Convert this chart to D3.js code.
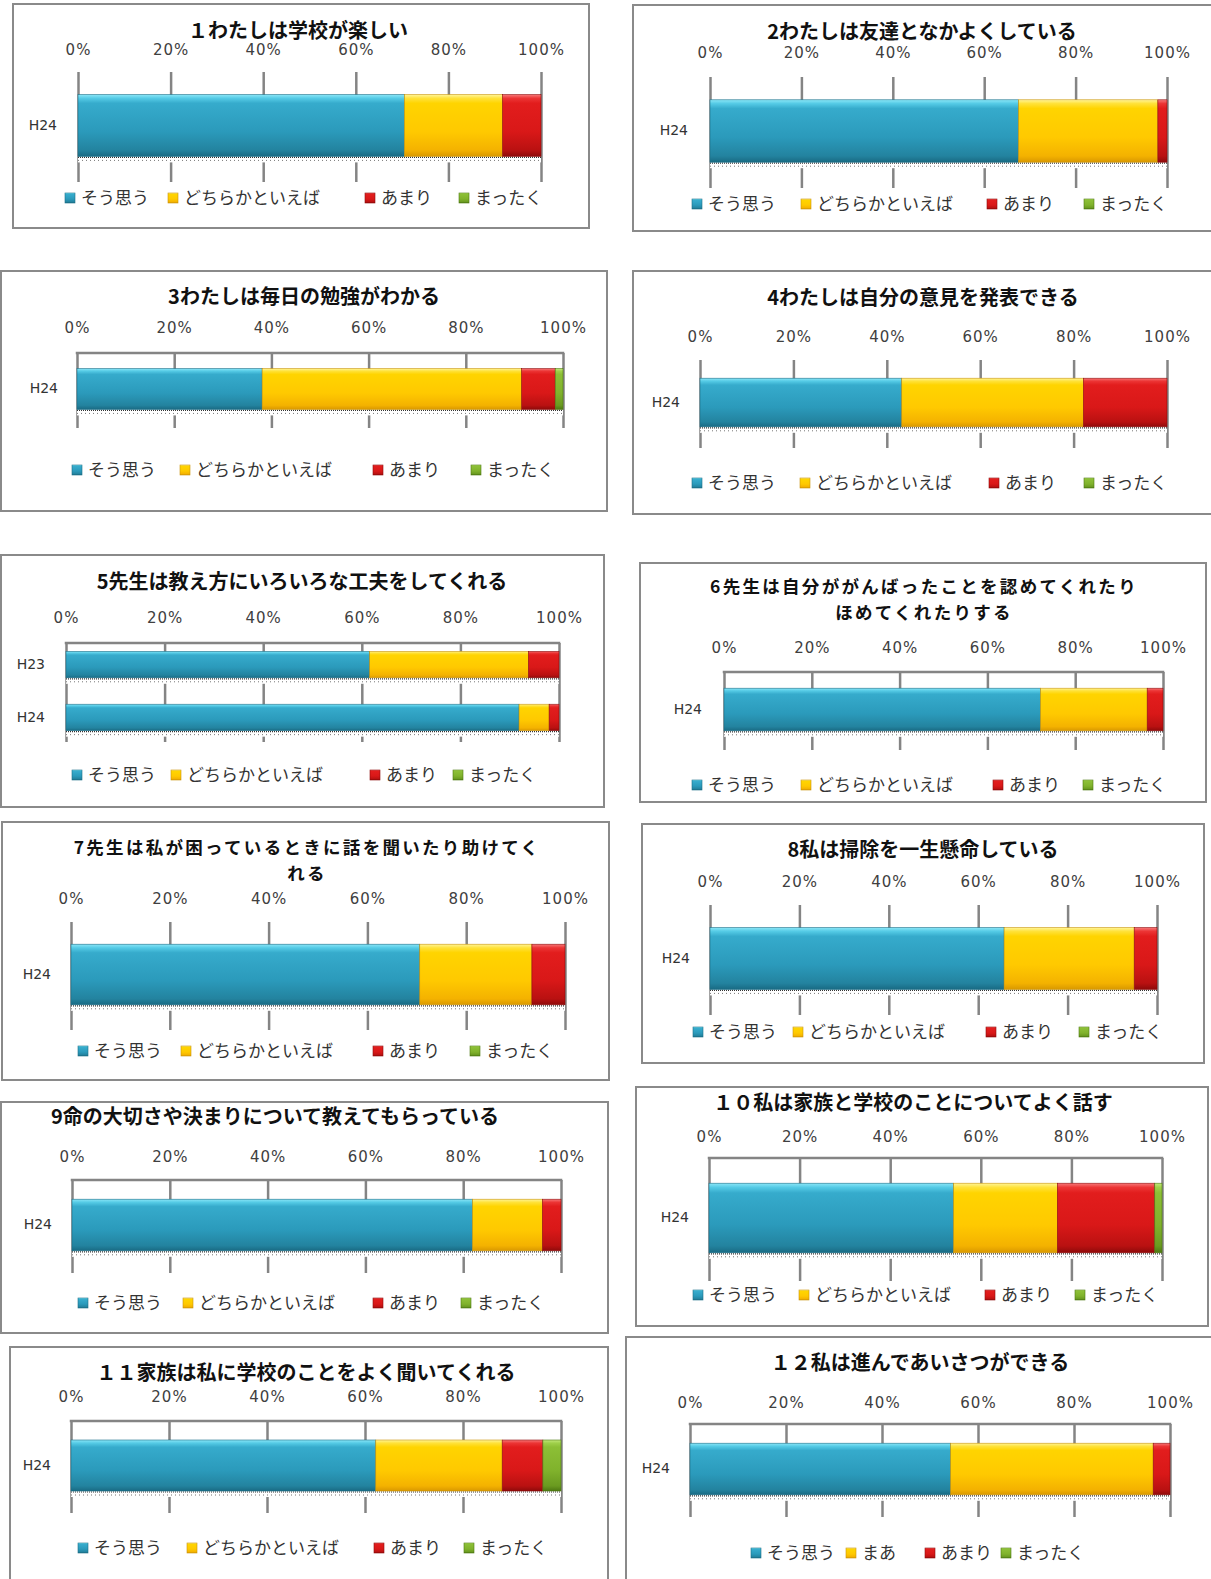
<!DOCTYPE html>
<html>
<head>
<meta charset="utf-8">
<script src="https://cdn.jsdelivr.net/npm/d3@7"></script>
<style>
body { margin: 0; background: #fff; }
</style>
</head>
<body>
<div id="charts"></div>
<script>
// chart titles, one entry per line
var titles = [
    ["１わたしは学校が楽しい"],
    ["2わたしは友達となかよくしている"],
    ["3わたしは毎日の勉強がわかる"],
    ["4わたしは自分の意見を発表できる"],
    ["5先生は教え方にいろいろな工夫をしてくれる"],
    ["6先生は自分ががんばったことを認めてくれたり", "ほめてくれたりする"],
    ["7先生は私が困っているときに話を聞いたり助けてく", "れる"],
    ["8私は掃除を一生懸命している"],
    ["9命の大切さや決まりについて教えてもらっている"],
    ["１０私は家族と学校のことについてよく話す"],
    ["１１家族は私に学校のことをよく聞いてくれる"],
    ["１２私は進んであいさつができる"]
];

var categories = [["H24"], ["H24"], ["H24"], ["H24"], ["H23", "H24"], ["H24"],
                  ["H24"], ["H24"], ["H24"], ["H24"], ["H24"], ["H24"]];

var tickValues = [0, 20, 40, 60, 80, 100];
var tickLabels = ["0%", "20%", "40%", "60%", "80%", "100%"];

var seriesNames   = ["そう思う", "どちらかといえば", "あまり", "まったく"];
var seriesNames12 = ["そう思う", "まあ", "あまり", "まったく"];

// percent values per chart, per category
var souOmou   = [[70.5], [67.5], [38.1], [43.2], [61.6, 91.9], [72.1], [70.6], [65.8], [81.9], [54.0], [62.2], [54.3]];
var dochiraka = [[21.2], [30.5], [53.4], [38.9], [32.2, 6.1],  [24.3], [22.7], [29.1], [14.3], [22.9], [25.8], [42.2]];
var amari     = [[8.3],  [2.0],  [6.9],  [17.9], [6.2, 2.0],   [3.6],  [6.7],  [5.1],  [3.8],  [21.5], [8.3],  [3.5]];
var mattaku   = [[0],    [0],    [1.6],  [0],    [0, 0],       [0],    [0],    [0],    [0],    [1.6],  [3.7],  [0]];

// where each chart box sits on the page
var layout = [
    {box: [13, 4, 576, 224],    tx: 298, ty: 31,   x0: 78,  x1: 541,  tickY: 50,   gTop: 72,   gBot: 182,  catX: 57,  legY: 198,  legX: [65, 168, 365, 459],   frame: false},
    {box: [633, 5, 600, 226],   tx: 922, ty: 32,   x0: 710, x1: 1167, tickY: 53,   gTop: 77,   gBot: 188,  catX: 688, legY: 204,  legX: [692, 801, 987, 1084], frame: false},
    {box: [1, 271, 606, 240],   tx: 304, ty: 297,  x0: 77,  x1: 563,  tickY: 328,  gTop: 353,  gBot: 428,  catX: 58,  legY: 470,  legX: [72, 180, 373, 471],   frame: true},
    {box: [633, 271, 600, 243], tx: 923, ty: 298,  x0: 700, x1: 1167, tickY: 337,  gTop: 360,  gBot: 448,  catX: 680, legY: 483,  legX: [692, 800, 989, 1084], frame: false},
    {box: [1, 555, 603, 252],   tx: 302, ty: 582,  x0: 66,  x1: 559,  tickY: 618,  gTop: 643,  gBot: 742,  catX: 45,  legY: 775,  legX: [72, 171, 370, 453],   frame: true, pi: 0.5, po: 0.12},
    {box: [640, 563, 566, 239], tx: 924, ty: 587,  x0: 724, x1: 1163, tickY: 648,  gTop: 672,  gBot: 750,  catX: 702, legY: 785,  legX: [692, 801, 993, 1083], frame: true},
    {box: [2, 822, 607, 258],   tx: 307, ty: 848,  x0: 71,  x1: 565,  tickY: 899,  gTop: 922,  gBot: 1030, catX: 51,  legY: 1051, legX: [78, 181, 373, 470],   frame: false},
    {box: [642, 824, 562, 239], tx: 923, ty: 850,  x0: 710, x1: 1157, tickY: 882,  gTop: 905,  gBot: 1015, catX: 690, legY: 1032, legX: [693, 793, 986, 1079], frame: false},
    {box: [1, 1102, 607, 231],  tx: 275, ty: 1117, x0: 72,  x1: 561,  tickY: 1157, gTop: 1180, gBot: 1273, catX: 52,  legY: 1303, legX: [78, 183, 373, 461],   frame: true},
    {box: [636, 1087, 572, 239],tx: 913, ty: 1103, x0: 709, x1: 1162, tickY: 1137, gTop: 1158, gBot: 1281, catX: 689, legY: 1295, legX: [693, 799, 985, 1075], frame: true},
    {box: [10, 1347, 598, 260], tx: 306, ty: 1373, x0: 71,  x1: 561,  tickY: 1397, gTop: 1421, gBot: 1513, catX: 51,  legY: 1548, legX: [78, 187, 374, 464],   frame: true},
    {box: [626, 1337, 600, 260],tx: 920, ty: 1363, x0: 690, x1: 1170, tickY: 1403, gTop: 1424, gBot: 1517, catX: 670, legY: 1553, legX: [751, 846, 925, 1001], frame: true}
];

// bevel-ish gradients for the 4 series
var gradients = [
    [[0, "#8be6f7"], [0.06, "#55cbe6"], [0.14, "#36abcc"], [0.6, "#2b9abb"], [0.9, "#23839f"], [1, "#196a83"]],
    [[0, "#fff59a"], [0.06, "#ffe23a"], [0.14, "#ffd400"], [0.6, "#ffc900"], [0.9, "#f4b200"], [1, "#d99800"]],
    [[0, "#f77a7a"], [0.06, "#ec3535"], [0.14, "#e21d1d"], [0.6, "#d91818"], [0.9, "#b91111"], [1, "#8e0a0a"]],
    [[0, "#c4e87c"], [0.06, "#9fd04a"], [0.14, "#8cbf36"], [0.6, "#80b22c"], [0.9, "#6a9a20"], [1, "#4d7812"]]
];
var edgeColors = ["#1d6f88", "#c9930a", "#8e0c0c", "#4d7812"];

var keys = ["sou", "dochira", "amari", "mattaku"];

var svg = d3.select("#charts")
    .append("svg")
    .attr("width", 1211)
    .attr("height", 1579);

var defs = svg.append("defs");
gradients.forEach(function(stops, i) {
    var lg = defs.append("linearGradient")
        .attr("id", "bar" + i)
        .attr("x1", 0).attr("y1", 0).attr("x2", 0).attr("y2", 1);
    stops.forEach(function(s) {
        lg.append("stop").attr("offset", s[0]).attr("stop-color", s[1]);
    });
});

layout.forEach(function(L, p) {
    var g = svg.append("g");

    // box
    g.append("rect")
        .attr("x", L.box[0]).attr("y", L.box[1])
        .attr("width", L.box[2]).attr("height", L.box[3])
        .attr("fill", "#fff")
        .attr("stroke", "#8a8a8a")
        .attr("stroke-width", 2);

    // title (two-line titles a bit smaller so the lines don't collide)
    var twoLines = titles[p].length > 1;
    titles[p].forEach(function(line, k) {
        g.append("text")
            .attr("x", L.tx)
            .attr("y", L.ty + k * 26)
            .attr("dy", "0.35em")
            .attr("text-anchor", "middle")
            .attr("font-family", "'Noto Sans CJK JP', sans-serif")
            .attr("font-weight", "bold")
            .attr("font-size", twoLines ? "17.5px" : "20px")
            .attr("letter-spacing", twoLines ? "2.3px" : "0px")
            .attr("fill", "#111")
            .text(line);
    });

    var x = d3.scaleLinear().domain([0, 100]).range([L.x0, L.x1]);
    var y = d3.scaleBand()
        .domain(categories[p])
        .range([L.gTop + 2, L.gBot - 5])
        .paddingInner(L.pi || 0.25)
        .paddingOuter(L.po || 0.25);

    // percent labels
    var tickAxis = g.append("g")
        .attr("transform", "translate(0," + L.tickY + ")")
        .call(d3.axisTop(x).tickValues(tickValues).tickSize(0)
            .tickFormat(function(d, i) { return tickLabels[i]; }));
    tickAxis.select(".domain").remove();
    tickAxis.selectAll("text")
        .attr("y", 0).attr("dy", "0.35em")
        .attr("font-family", "'DejaVu Sans', sans-serif")
        .attr("font-size", "15px")
        .attr("letter-spacing", "1px")
        .attr("fill", "#404040");

    // grid lines
    var grid = g.append("g")
        .attr("transform", "translate(0," + L.gTop + ")")
        .call(d3.axisBottom(x).tickValues(tickValues).tickSize(L.gBot - L.gTop).tickFormat(""));
    grid.select(".domain").remove();
    grid.selectAll("line").attr("stroke", "#848484").attr("stroke-width", 2.5);
    if (L.frame) {
        g.append("line")
            .attr("x1", x(0) - 1.25).attr("x2", x(100) + 1.25)
            .attr("y1", L.gTop).attr("y2", L.gTop)
            .attr("stroke", "#848484").attr("stroke-width", 2.5);
    }

    // category label
    var catAxis = g.append("g")
        .attr("transform", "translate(" + L.catX + ",0)")
        .call(d3.axisLeft(y).tickSize(0));
    catAxis.select(".domain").remove();
    catAxis.selectAll("text")
        .attr("x", 0)
        .attr("font-family", "'DejaVu Sans', sans-serif")
        .attr("font-size", "14px")
        .attr("fill", "#333");

    var rows = categories[p].map(function(c, i) {
        return {cat: c, sou: souOmou[p][i], dochira: dochiraka[p][i], amari: amari[p][i], mattaku: mattaku[p][i]};
    });
    var stacked = d3.stack().keys(keys)(rows);

    // dotted floor under the bars
    rows.forEach(function(r) {
        var fy = y(r.cat) + y.bandwidth();
        g.append("rect")
            .attr("x", x(0)).attr("y", fy)
            .attr("width", x(100) - x(0)).attr("height", 6)
            .attr("fill", "#fff");
        g.append("line")
            .attr("x1", x(0)).attr("x2", x(100))
            .attr("y1", fy + 1).attr("y2", fy + 1)
            .attr("stroke", "#333").attr("stroke-width", 1.2)
            .attr("stroke-dasharray", "1,1");
        g.append("line")
            .attr("x1", x(0)).attr("x2", x(100))
            .attr("y1", fy + 4).attr("y2", fy + 4)
            .attr("stroke", "#777").attr("stroke-width", 1)
            .attr("stroke-dasharray", "1,3");
    });

    // bars
    stacked.forEach(function(layer, i) {
        g.selectAll(null)
            .data(layer.filter(function(d) { return d[1] - d[0] > 0; }))
            .enter()
            .append("rect")
            .attr("x", function(d) { return x(d[0]); })
            .attr("y", function(d) { return y(d.data.cat); })
            .attr("width", function(d) { return x(d[1]) - x(d[0]); })
            .attr("height", y.bandwidth())
            .attr("fill", "url(#bar" + i + ")")
            .attr("stroke", edgeColors[i])
            .attr("stroke-width", 0.6);
    });

    // legend
    var names = p === 11 ? seriesNames12 : seriesNames;
    names.forEach(function(name, i) {
        g.append("rect")
            .attr("x", L.legX[i]).attr("y", L.legY - 5)
            .attr("width", 10).attr("height", 10)
            .attr("fill", "url(#bar" + i + ")")
            .attr("stroke", edgeColors[i]).attr("stroke-width", 0.6);
        g.append("text")
            .attr("x", L.legX[i] + 16)
            .attr("y", L.legY)
            .attr("dy", "0.35em")
            .attr("font-family", "'Noto Sans CJK JP', sans-serif")
            .attr("font-size", "17px")
            .attr("fill", "#333")
            .text(name);
    });
});
</script>
</body>
</html>
